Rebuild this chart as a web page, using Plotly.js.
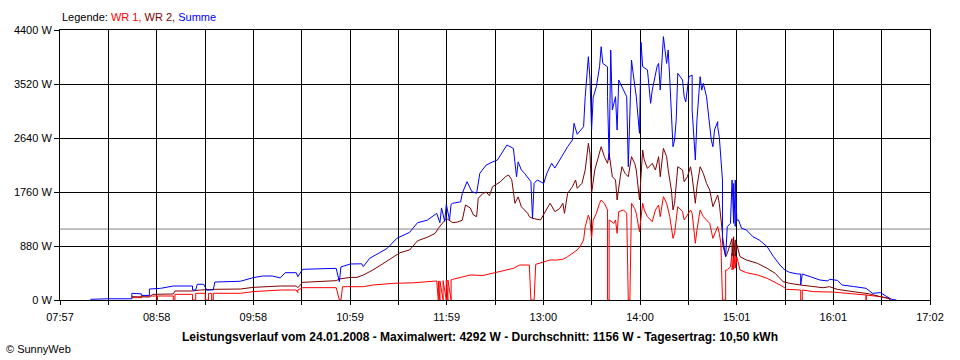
<!DOCTYPE html>
<html>
<head>
<meta charset="utf-8">
<script src="https://cdn.plot.ly/plotly-3.0.1.min.js"></script>
<style>html,body{margin:0;padding:0;background:#fff;}#chart{width:960px;height:360px;}</style>
</head>
<body>
<div id="chart"></div>
<script>
// ---- data (time "H:MM", power in W) ----
const seriesNames = ["WR 1", "WR 2", "Summe"];
const xRangeLabels = ["07:57", "17:02"];
const xTickLabels = ["07:57","08:58","09:58","10:59","11:59","13:00","14:00","15:01","16:01","17:02"];
const yTickValues = [0, 880, 1760, 2640, 3520, 4400];
const yTickLabels = ["0 W", "880 W", "1760 W", "2640 W", "3520 W", "4400 W"];
const avgPower = 1156;
const titleText = "Leistungsverlauf vom 24.01.2008 - Maximalwert: 4292 W - Durchschnitt: 1156 W - Tagesertrag: 10,50 kWh";

const wr1Points = [["8:42",38],["8:48",38],["8:48",65],["8:58",65],["8:58",0],["8:58",65],["9:08",65],["9:08",0],["9:09",0],["9:09",92],["9:20",92],["9:20",0],["9:22",0],["9:22",109],["9:28",109],["9:28",0],["9:30",0],["9:30",109],["9:32",109],["9:32",0],["9:33",0],["9:33",109],["9:50",109],["9:58",136],["10:15",163],["10:25",163],["10:26",120],["10:26",163],["10:29",201],["10:50",201],["10:52",0],["10:53",0],["10:54",217],["11:07",217],["11:13",244],["11:26",272],["11:38",280],["11:51",298],["11:53",310],["11:54",0],["11:54",310],["11:55",0],["11:55",310],["11:57",0],["11:57",315],["11:59",0],["11:59",320],["12:00",0],["12:00",325],["12:02",0],["12:02",330],["12:03",337],["12:09",380],["12:14",407],["12:22",400],["12:28",435],["12:34",478],["12:41",516],["12:45",570],["12:51",570],["12:52",0],["12:54",0],["12:55",581],["13:00",625],["13:04",652],["13:08",652],["13:12",663],["13:15",706],["13:18",760],["13:21",815],["13:23",880],["13:25",978],["13:26",1195],["13:28",1385],["13:29",1300],["13:30",1005],["13:31",1300],["13:33",1412],["13:35",1576],["13:36",1630],["13:38",1576],["13:40",1467],["13:40",0],["13:41",0],["13:41",1304],["13:44",1250],["13:45",1304],["13:46",1086],["13:47",1439],["13:50",1467],["13:52",1412],["13:53",0],["13:54",0],["13:55",1576],["13:57",1490],["13:58",1412],["14:00",1113],["14:02",1576],["14:03",1467],["14:05",1358],["14:08",1276],["14:10",1467],["14:12",1548],["14:13",1358],["14:15",1684],["14:17",1576],["14:19",1358],["14:20",1141],["14:21",1005],["14:22",1086],["14:24",1521],["14:27",1440],["14:28",1304],["14:32",1467],["14:33",1412],["14:35",924],["14:36",1141],["14:38",1467],["14:40",1358],["14:42",1304],["14:44",1250],["14:46",1005],["14:49",1195],["14:50",1086],["14:51",924],["14:52",0],["14:54",0],["14:54",489],["14:55",489],["14:57",540],["14:58",760],["14:58",489],["14:59",700],["14:59",500],["15:00",760],["15:00",520],["15:01",700],["15:03",489],["15:07",446],["15:14",407],["15:20",353],["15:26",272],["15:30",217],["15:32",174],["15:41",163],["15:41",0],["15:42",0],["15:42",163],["15:49",136],["16:01",130],["16:10",109],["16:22",81],["16:22",0],["16:22",81],["16:31",54],["16:37",20],["16:38",0]];

const wr2Points = [["8:42",54],["8:48",54],["8:48",49],["8:53",49],["8:55",92],["9:08",98],["9:09",147],["9:20",147],["9:25",163],["9:34",174],["9:50",179],["9:58",206],["10:15",228],["10:25",228],["10:26",200],["10:29",288],["10:50",315],["10:52",342],["10:59",369],["11:03",369],["11:07",407],["11:13",489],["11:19",587],["11:26",695],["11:30",771],["11:36",815],["11:41",966],["11:47",1021],["11:52",1086],["11:54",1168],["11:59",1331],["12:03",1260],["12:06",1270],["12:09",1300],["12:11",1548],["12:14",1500],["12:16",1385],["12:18",1358],["12:19",1657],["12:22",1738],["12:24",1760],["12:26",1700],["12:28",1847],["12:33",1928],["12:36",2009],["12:38",2037],["12:40",1960],["12:42",1576],["12:44",1680],["12:46",1521],["12:50",1412],["12:51",1358],["12:53",1331],["12:58",1304],["13:01",1440],["13:04",1576],["13:07",1440],["13:10",1490],["13:12",1576],["13:13",1412],["13:15",1738],["13:18",1847],["13:20",1956],["13:21",1820],["13:24",1901],["13:26",2118],["13:28",2553],["13:29",2390],["13:30",1738],["13:32",2118],["13:34",2308],["13:36",2498],["13:38",2336],["13:40",2227],["13:41",2390],["13:43",2009],["13:45",1956],["13:46",1630],["13:48",2009],["13:49",2172],["13:51",2063],["13:53",2009],["13:55",2336],["13:57",2227],["13:58",2118],["14:00",1630],["14:02",2444],["14:03",2281],["14:05",2145],["14:08",2227],["14:10",2118],["14:12",2336],["14:13",2009],["14:15",2471],["14:17",2336],["14:18",2118],["14:20",1793],["14:21",1467],["14:22",1576],["14:24",2172],["14:27",2118],["14:28",1928],["14:30",2009],["14:32",2172],["14:33",2009],["14:35",1576],["14:36",1847],["14:38",2172],["14:40",2063],["14:42",1901],["14:44",1793],["14:46",1521],["14:49",1711],["14:50",1576],["14:52",1086],["14:52",924],["14:54",706],["14:55",760],["14:58",1000],["14:58",720],["14:59",1030],["14:59",700],["15:00",980],["15:00",720],["15:01",900],["15:03",706],["15:07",652],["15:14",597],["15:20",516],["15:25",435],["15:30",298],["15:34",272],["15:41",244],["15:49",217],["15:55",200],["15:59",217],["16:04",174],["16:10",150],["16:18",119],["16:24",100],["16:31",54],["16:36",30],["16:37",0]];

const sumPoints = [["8:16",11],["8:27",20],["8:42",20],["8:42",109],["8:48",100],["8:48",75],["8:53",75],["8:53",179],["9:00",190],["9:04",212],["9:08",228],["9:20",228],["9:20",163],["9:22",163],["9:23",256],["9:27",256],["9:29",160],["9:33",165],["9:34",293],["9:50",305],["9:58",364],["10:04",391],["10:10",391],["10:15",360],["10:18",445],["10:25",445],["10:26",380],["10:29",500],["10:40",510],["10:50",516],["10:52",298],["10:53",540],["10:59",587],["11:06",590],["11:07",545],["11:11",679],["11:22",842],["11:28",1005],["11:36",1103],["11:41",1260],["11:47",1300],["11:53",1412],["11:55",1260],["11:56",1500],["11:58",1280],["11:59",1560],["12:01",1300],["12:02",1560],["12:03",1576],["12:08",1600],["12:09",1738],["12:12",1928],["12:15",1765],["12:18",1740],["12:20",2065],["12:24",2200],["12:28",2250],["12:31",2281],["12:33",2363],["12:37",2526],["12:41",2471],["12:43",2009],["12:44",2250],["12:46",2120],["12:48",2065],["12:51",1956],["12:52",1928],["12:53",1331],["12:54",1900],["12:56",1956],["13:00",1900],["13:02",2065],["13:05",2228],["13:07",2150],["13:10",2281],["13:12",2390],["13:15",2498],["13:18",2607],["13:19",2879],["13:21",2700],["13:25",2825],["13:26",3313],["13:28",3965],["13:29",3600],["13:30",2770],["13:31",3300],["13:33",3476],["13:35",3802],["13:36",4128],["13:37",3856],["13:40",3800],["13:40",3313],["13:41",2281],["13:42",4074],["13:43",3096],["13:45",3313],["13:46",2770],["13:47",3585],["13:50",3420],["13:52",3313],["13:53",2172],["13:55",3911],["13:56",3700],["13:57",3476],["13:58",3313],["14:00",2716],["14:01",4200],["14:02",3802],["14:05",3750],["14:07",3205],["14:08",3420],["14:11",3802],["14:12",3856],["14:13",3422],["14:15",4292],["14:17",3856],["14:18",4074],["14:19",3585],["14:20",3042],["14:21",2498],["14:22",2607],["14:23",2930],["14:24",3694],["14:27",3585],["14:28",3313],["14:29",3230],["14:31",3639],["14:33",3666],["14:33",3096],["14:35",2281],["14:36",2930],["14:38",3639],["14:39",3420],["14:40",3530],["14:42",3313],["14:43",3096],["14:45",2607],["14:46",2498],["14:47",2770],["14:49",2906],["14:49",2825],["14:50",2661],["14:52",1956],["14:52",1032],["14:54",706],["14:55",1195],["14:57",1250],["14:58",1956],["14:59",1250],["14:59",1900],["15:00",1200],["15:00",1956],["15:01",1300],["15:02",1304],["15:04",1168],["15:07",1141],["15:11",1032],["15:15",978],["15:20",869],["15:24",706],["15:28",570],["15:31",489],["15:34",451],["15:39",424],["15:41",424],["15:41",244],["15:42",424],["15:47",380],["15:53",326],["15:58",310],["15:59",337],["16:04",320],["16:07",244],["16:14",220],["16:20",190],["16:22",190],["16:26",109],["16:31",120],["16:35",54],["16:38",11],["16:41",0]];

// ---- helpers ----
function toMin(s) { const p = s.split(":"); return (+p[0]) * 60 + (+p[1]); }
const xMin = toMin(xRangeLabels[0]);
const xMax = toMin(xRangeLabels[1]);
const nGrid = (xTickLabels.length - 1) * 2;
const xTickVals = [], xTickText = [];
for (let i = 0; i <= nGrid; i++) {
  xTickVals.push(xMin + (xMax - xMin) * i / nGrid);
  xTickText.push(i % 2 === 0 ? xTickLabels[i / 2] : "");
}

const colors = ["#FF0000", "#800000", "#0000FF"];
const allPoints = [wr1Points, wr2Points, sumPoints];
const traces = allPoints.map((pts, i) => ({
  type: "scatter",
  mode: "lines",
  name: seriesNames[i],
  x: pts.map(p => toMin(p[0])),
  y: pts.map(p => p[1]),
  line: { color: colors[i], width: 1 },
  hoverinfo: "skip"
}));

const legendHtml = "Legende: " + seriesNames.map((n, i) =>
  '<span style="color:' + colors[i] + '">' + n + (i < seriesNames.length - 1 ? "," : "") + '</span>').join(" ");

const FONT = "'Liberation Sans', Arial, sans-serif";

const layout = {
  width: 960, height: 360, autosize: false,
  margin: { l: 60, r: 30, t: 30, b: 60, pad: 0 },
  paper_bgcolor: "#FFFFFF", plot_bgcolor: "#FFFFFF",
  showlegend: false,
  font: { family: FONT, size: 11, color: "#000000" },
  title: {
    text: "<b>" + titleText + "</b>",
    xref: "container", yref: "container",
    x: 0.5, y: 1 - 337 / 360, xanchor: "center", yanchor: "middle",
    font: { family: FONT, size: 12, color: "#000000" }
  },
  xaxis: {
    range: [xMin, xMax],
    tickmode: "array", tickvals: xTickVals, ticktext: xTickText,
    showgrid: true, gridcolor: "#000000", gridwidth: 1,
    showline: true, linecolor: "#000000", linewidth: 1, mirror: true,
    ticks: "outside", ticklen: 4, tickcolor: "#000000", tickwidth: 1,
    ticklabelstandoff: 3,
    zeroline: false, fixedrange: true,
    tickfont: { family: FONT, size: 11, color: "#000000" }
  },
  yaxis: {
    range: [0, 4400],
    tickmode: "array", tickvals: yTickValues, ticktext: yTickLabels,
    showgrid: true, gridcolor: "#000000", gridwidth: 1,
    showline: true, linecolor: "#000000", linewidth: 1, mirror: true,
    ticks: "outside", ticklen: 5, tickcolor: "#000000", tickwidth: 1,
    zeroline: false, fixedrange: true,
    tickfont: { family: FONT, size: 11, color: "#000000" }
  },
  shapes: [{
    type: "line", xref: "paper", x0: 0, x1: 1, yref: "y", y0: avgPower, y1: avgPower,
    line: { color: "#808080", width: 1 }, layer: "below"
  }],
  annotations: [
    { text: legendHtml, xref: "paper", yref: "paper", x: 0, y: 1 + 13 / 270,
      xanchor: "left", yanchor: "middle", showarrow: false,
      font: { family: FONT, size: 11, color: "#000000" } },
    { text: "© SunnyWeb", xref: "paper", yref: "paper", x: (4 - 60) / 870, y: (300 - 349) / 270,
      xanchor: "left", yanchor: "middle", showarrow: false,
      font: { family: FONT, size: 11, color: "#000000" } }
  ]
};

Plotly.newPlot("chart", traces, layout, { staticPlot: true, displayModeBar: false });
</script>
</body>
</html>
